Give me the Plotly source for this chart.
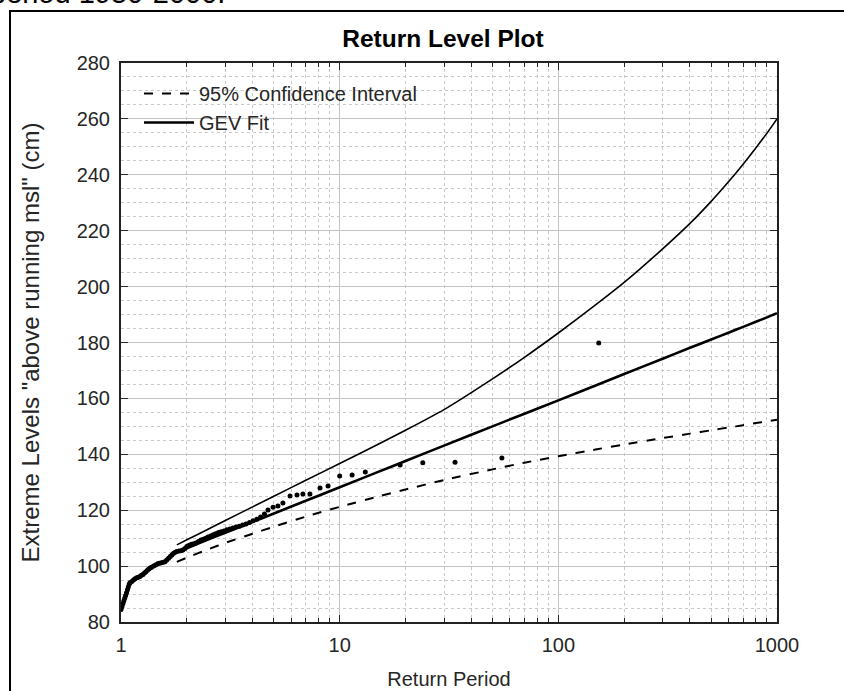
import plotly.graph_objects as go

# ---------------- data ----------------
# empirical return levels (return period, level in cm)
emp_T = [1.00, 1.01, 1.02, 1.03, 1.04, 1.05, 1.06, 1.07, 1.08, 1.09, 1.10, 1.12, 1.14, 1.16,
         1.18, 1.20, 1.22, 1.24, 1.26, 1.28, 1.30, 1.32, 1.34, 1.36, 1.38, 1.41, 1.44, 1.47,
         1.50, 1.53, 1.56, 1.59, 1.62, 1.65, 1.68, 1.71, 1.74, 1.77, 1.80, 1.84, 1.88, 1.92,
         1.96, 2.00, 2.05, 2.10, 2.15, 2.20, 2.26, 2.32, 2.38, 2.44, 2.50, 2.57, 2.64, 2.71,
         2.79, 2.87, 2.96, 3.05, 3.15, 3.25, 3.36, 3.48, 3.60, 3.73, 3.87, 4.02, 4.18, 4.35,
         4.53, 4.70, 4.96, 5.22, 5.50, 5.93, 6.38, 6.79, 7.31, 8.13, 8.85, 10.0, 11.4, 13.1,
         18.9, 24.0, 33.7, 55.2, 153.0]
emp_L = [84.5, 85.5, 86.5, 87.5, 88.5, 89.5, 90.5, 91.5, 92.5, 93.5, 94.0, 94.5, 95.0, 95.5,
         95.8, 96.0, 96.3, 96.7, 97.0, 97.5, 98.0, 98.5, 99.0, 99.3, 99.6, 100.0, 100.4, 100.8,
         101.0, 101.2, 101.4, 101.6, 102.2, 102.8, 103.4, 104.0, 104.6, 105.0, 105.2, 105.4, 105.5, 105.8,
         106.3, 107.0, 107.5, 107.8, 108.0, 108.3, 108.8, 109.3, 109.6, 110.0, 110.4, 110.8, 111.2, 111.6,
         112.0, 112.3, 112.6, 113.0, 113.3, 113.6, 114.0, 114.3, 114.7, 115.1, 115.6, 116.2, 116.8, 117.6,
         118.6, 120.1, 121.1, 121.5, 122.6, 125.1, 125.4, 125.8, 125.8, 127.9, 128.7, 132.2, 132.6, 133.7,
         136.2, 137.0, 137.2, 138.7, 179.8]

fit_T = [1.8, 2, 2.5, 3, 4, 5, 7, 10, 15, 20, 30, 50, 70, 100, 150, 200, 300, 400, 500, 600,
         700, 800, 900, 1000]
gev_fit = [105.0, 106.4, 109.5, 111.9, 115.8, 118.8, 123.4, 128.2, 133.7, 137.6, 143.1, 150.0,
           154.5, 159.3, 164.8, 168.7, 174.2, 178.1, 181.1, 183.5, 185.6, 187.4, 189.0, 190.5]
ci_upper = [107.6, 109.4, 113.2, 116.3, 121.2, 125.0, 130.7, 136.7, 143.6, 148.6, 156.0, 167.0,
            174.7, 183.4, 193.8, 201.5, 213.5, 222.6, 230.5, 237.5, 243.8, 249.6, 254.9, 260.0]
ci_lower = [101.5, 103.0, 106.0, 108.3, 111.6, 114.1, 117.7, 121.2, 124.9, 127.4, 130.8, 134.6,
            137.0, 139.3, 141.8, 143.5, 145.8, 147.4, 148.6, 149.6, 150.4, 151.2, 151.8, 152.4]

y_ticks = [80, 100, 120, 140, 160, 180, 200, 220, 240, 260, 280]
x_ticks = [1, 10, 100, 1000]

# ---------------- figure ----------------
W, H = 844, 691
L, R, T, B = 121, 67, 63, 69
pw, ph = W - L - R, H - T - B

def px(xp):
    return (xp - L) / pw

def py(yp):
    return (H - B - yp) / ph

FONT = "Liberation Sans, Arial, Helvetica, sans-serif"
AX = "#262626"

fig = go.Figure()

fig.add_trace(go.Scatter(x=fit_T, y=ci_lower, mode="lines", name="95% Confidence Interval",
                         line=dict(color="black", width=2, dash="dash", shape="spline", smoothing=0.6)))
fig.add_trace(go.Scatter(x=fit_T, y=gev_fit, mode="lines", name="GEV Fit",
                         line=dict(color="black", width=2.6, shape="spline", smoothing=0.6)))
fig.add_trace(go.Scatter(x=fit_T, y=ci_upper, mode="lines", showlegend=False,
                         line=dict(color="black", width=1.6, shape="spline", smoothing=0.6)))
fig.add_trace(go.Scatter(x=emp_T, y=emp_L, mode="markers", showlegend=False,
                         marker=dict(color="black", size=5)))

fig.update_xaxes(type="log", range=[0, 3], tickvals=x_ticks, ticktext=[str(v) for v in x_ticks],
                 showline=True, linecolor="#222222", linewidth=2, mirror="allticks",
                 ticks="inside", ticklen=7, tickcolor=AX, ticklabelstandoff=4,
                 showgrid=True, gridcolor="#c4c4c4", gridwidth=1,
                 minor=dict(dtick="D1", showgrid=True, gridcolor="#c8c8c8", griddash="dot",
                            ticks="inside", ticklen=4, tickcolor=AX),
                 zeroline=False, automargin=False,
                 tickfont=dict(family=FONT, size=20, color=AX),
                 title=dict(text="Return Period", font=dict(family=FONT, size=20, color=AX), standoff=17))
fig.update_yaxes(range=[80, 280], tickvals=y_ticks,
                 showline=True, linecolor="#222222", linewidth=2, mirror="allticks",
                 ticks="inside", ticklen=7, tickcolor=AX, ticklabelstandoff=5,
                 showgrid=True, gridcolor="#c4c4c4", gridwidth=1,
                 minor=dict(dtick=5, showgrid=True, gridcolor="#c8c8c8", griddash="dot"),
                 zeroline=False, automargin=False,
                 tickfont=dict(family=FONT, size=20, color=AX),
                 title=dict(text='Extreme Levels "above running msl" (cm)',
                            font=dict(family=FONT, size=24, color=AX), standoff=30))

fig.update_layout(
    width=W, height=H,
    margin=dict(l=L, r=R, t=T, b=B, pad=0, autoexpand=False),
    paper_bgcolor="white", plot_bgcolor="white",
    title=dict(text="<b>Return Level Plot</b>", x=px(443), xref="paper", xanchor="center",
               y=1 - 38 / H, yref="container", yanchor="middle",
               font=dict(family=FONT, size=24.5, color="black")),
    legend=dict(x=px(139), y=py(74), xanchor="left", yanchor="top",
                bgcolor="rgba(0,0,0,0)", borderwidth=0, tracegroupgap=0,
                font=dict(family=FONT, size=20, color=AX), itemwidth=50),
    showlegend=True,
)

# outer frame of the screenshot
fig.add_shape(type="rect", xref="paper", yref="paper",
              x0=px(10), x1=px(900), y0=py(760), y1=py(11),
              line=dict(color="black", width=2), fillcolor="rgba(0,0,0,0)", layer="above")

# caption of the page above the figure, cut at the top edge as in the reference
fig.add_annotation(text="period 1950-2000.", xref="paper", yref="paper",
                   x=px(227), y=py(11), xanchor="right", yanchor="bottom",
                   showarrow=False, font=dict(family=FONT, size=29, color="black"))

fig.write_html("out.html")
